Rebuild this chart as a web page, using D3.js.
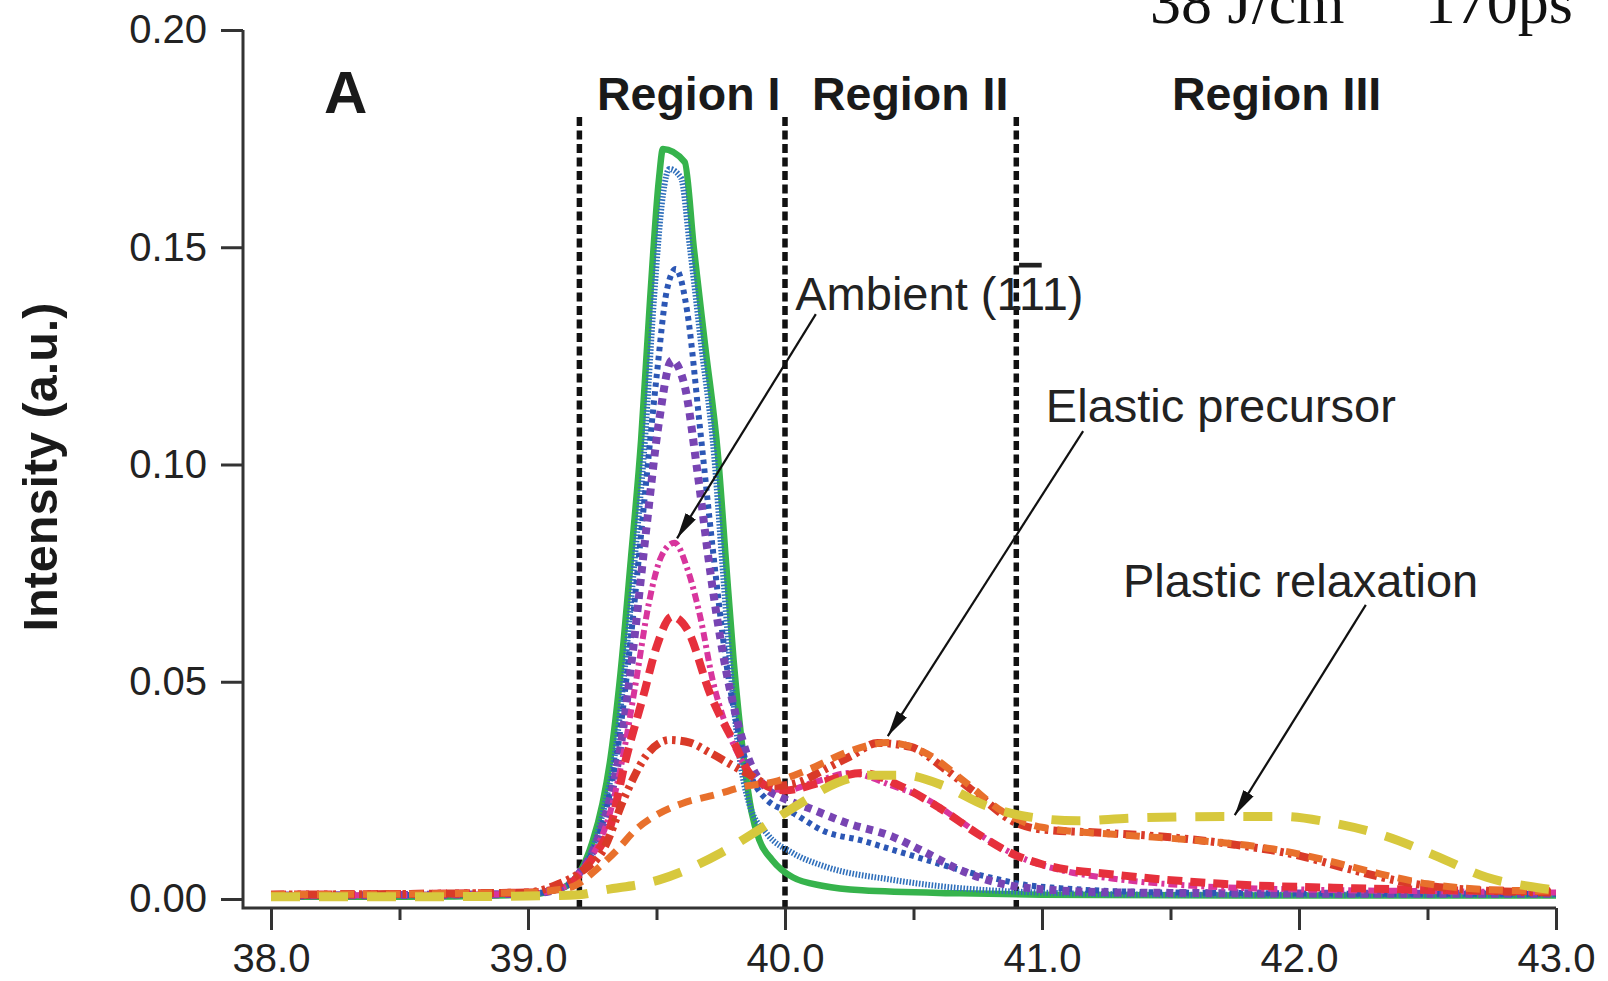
<!doctype html>
<html lang="en">
<head>
  <meta charset="utf-8">
  <title>Intensity vs angle - regions I, II, III</title>
  <style>
    html, body { margin:0; padding:0; background:#fff; }
    #chart svg { display:block; }
    .tick text { font-family:"Liberation Sans", Arial, sans-serif; fill:#222; }
    .tick line { stroke:#333; stroke-width:3; }
    .note { font-family:"Liberation Sans", Arial, sans-serif; fill:#222; }
    .bold { font-weight:bold; fill:#1a1a1a; }
  </style>
</head>
<body>
  <div id="chart"></div>

<script src="https://cdn.jsdelivr.net/npm/d3@7"></script>
<script>
// tick values
var xTicks = [38, 39, 40, 41, 42, 43];
var xMinor = [38.5, 39.5, 40.5, 41.5, 42.5];
var yTicks = [0, 0.05, 0.10, 0.15, 0.20];

// region boundaries (x) and labels
var regionBounds = [39.2, 40.0, 40.9];
var regionNames = ["Region I", "Region II", "Region III"];

// curves, [x, intensity]
var ambient = [[38.0,0.0005],[38.5,0.0005],[39.0,0.001],[39.1,0.002],[39.15,0.003],[39.2,0.006],[39.25,0.013],
  [39.29,0.022],[39.32,0.032],[39.36,0.052],[39.40,0.078],[39.44,0.1056],[39.475,0.138],[39.51,0.166],[39.525,0.1726],
  [39.61,0.1696],[39.645,0.15],[39.69,0.127],[39.74,0.1016],[39.77,0.078],[39.80,0.055],[39.84,0.032],[39.87,0.02],
  [39.90,0.0136],[39.95,0.009],[40.03,0.005],[40.15,0.003],[40.3,0.002],[40.68,0.0013],[41.0,0.001],[42.0,0.0008],[43.0,0.0008]];
var blueFine = [[38.0,0.0008],[38.5,0.0008],[39.0,0.0012],[39.1,0.002],[39.15,0.003],[39.2,0.006],[39.26,0.013],
  [39.30,0.022],[39.335,0.032],[39.375,0.052],[39.415,0.078],[39.455,0.1056],[39.49,0.138],[39.525,0.162],[39.55,0.168],
  [39.595,0.166],[39.63,0.15],[39.675,0.127],[39.725,0.1016],[39.755,0.078],[39.785,0.055],[39.82,0.034],[39.86,0.022],
  [39.93,0.015],[40.03,0.0106],[40.16,0.0074],[40.42,0.0044],[40.68,0.0025],[40.94,0.0016],[41.5,0.001],[42.5,0.001],[43.0,0.001]];
var blueDot = [[38.0,0.0008],[39.0,0.0012],[39.15,0.003],[39.2,0.006],[39.26,0.012],[39.31,0.022],[39.35,0.035],
  [39.40,0.06],[39.45,0.09],[39.50,0.12],[39.54,0.14],[39.575,0.145],[39.62,0.135],[39.67,0.108],[39.72,0.08],
  [39.77,0.055],[39.82,0.038],[39.87,0.028],[39.93,0.0228],[40.03,0.0198],[40.16,0.0154],[40.29,0.0136],[40.42,0.0113],
  [40.55,0.009],[40.68,0.0067],[40.81,0.0048],[40.94,0.0032],[41.07,0.0025],[41.5,0.0015],[42.5,0.0012],[43.0,0.0012]];
var purple = [[38.0,0.0008],[39.0,0.0012],[39.15,0.003],[39.2,0.006],[39.26,0.012],[39.31,0.021],[39.36,0.035],
  [39.41,0.058],[39.46,0.085],[39.51,0.11],[39.56,0.124],[39.61,0.118],[39.66,0.098],[39.71,0.075],[39.76,0.056],
  [39.81,0.042],[39.86,0.032],[39.92,0.026],[40.0,0.023],[40.09,0.021],[40.24,0.0175],[40.42,0.0143],[40.55,0.0106],
  [40.68,0.0067],[40.81,0.004],[40.95,0.0025],[41.3,0.0015],[42.5,0.0012],[43.0,0.0012]];
var magenta = [[38.0,0.0008],[39.0,0.0012],[39.15,0.003],[39.2,0.006],[39.26,0.011],[39.32,0.02],[39.37,0.033],
  [39.42,0.05],[39.47,0.068],[39.52,0.079],[39.57,0.082],[39.62,0.076],[39.67,0.065],[39.72,0.05],[39.77,0.04],
  [39.83,0.032],[39.9,0.027],[40.0,0.025],[40.12,0.027],[40.25,0.029],[40.42,0.026],[40.55,0.023],[40.68,0.018],
  [40.81,0.0129],[40.94,0.009],[41.07,0.0067],[41.3,0.0045],[41.6,0.003],[42.0,0.0022],[42.5,0.0018],[43.0,0.0015]];
var redDash = [[38.0,0.001],[39.0,0.0015],[39.15,0.003],[39.22,0.007],[39.27,0.011],[39.32,0.0166],[39.38,0.032],
  [39.45,0.047],[39.5,0.058],[39.56,0.065],[39.62,0.062],[39.71,0.047],[39.81,0.035],[39.86,0.029],[39.93,0.026],
  [40.0,0.025],[40.15,0.027],[40.3,0.029],[40.45,0.026],[40.6,0.021],[40.75,0.015],[40.9,0.01],[41.0,0.008],
  [41.3,0.0055],[41.7,0.0035],[42.2,0.0025],[42.6,0.002],[43.0,0.0018]];
var redDotDot = [[38.0,0.001],[39.0,0.0015],[39.1,0.003],[39.2,0.006],[39.29,0.011],[39.38,0.024],[39.46,0.033],
  [39.55,0.0366],[39.63,0.036],[39.71,0.0336],[39.85,0.029],[39.96,0.026],[40.06,0.027],[40.16,0.030],[40.26,0.033],
  [40.36,0.0359],[40.49,0.035],[40.62,0.030],[40.75,0.024],[40.9,0.0175],[41.0,0.016],[41.25,0.0152],[41.5,0.0142],
  [41.75,0.0125],[42.0,0.010],[42.2,0.0068],[42.4,0.004],[42.7,0.002],[43.0,0.0015]];
var orange = [[38.0,0.001],[39.0,0.0015],[39.1,0.002],[39.18,0.003],[39.27,0.007],[39.35,0.0115],[39.42,0.016],
  [39.49,0.019],[39.60,0.022],[39.73,0.024],[39.85,0.026],[39.96,0.027],[40.1,0.030],[40.25,0.034],[40.4,0.036],
  [40.55,0.0335],[40.7,0.027],[40.85,0.020],[41.0,0.0165],[41.3,0.0148],[41.6,0.0135],[41.9,0.0115],[42.1,0.009],
  [42.3,0.006],[42.5,0.0035],[42.8,0.002],[43.0,0.0018]];
var yellow = [[38.0,0.0005],[38.5,0.0005],[39.0,0.0007],[39.2,0.001],[39.29,0.002],[39.51,0.0044],[39.75,0.0106],
  [39.90,0.016],[40.06,0.022],[40.20,0.0267],[40.33,0.0285],[40.46,0.0285],[40.62,0.026],[40.78,0.0215],[40.94,0.019],
  [41.14,0.018],[41.34,0.0186],[41.73,0.019],[41.93,0.019],[42.13,0.0175],[42.33,0.0146],[42.53,0.010],[42.73,0.005],
  [42.93,0.0026],[43.0,0.002]];

// annotations: label, text anchor [x, y], arrow from [x, y] to [x, y]
var noteLabels = ["Ambient (1", "Elastic precursor", "Plastic relaxation"];
var noteAt = [[40.04, 0.1356], [41.015, 0.1098], [41.315, 0.0695]];
var noteFrom = [[40.12, 0.1346], [41.16, 0.1077], [42.26, 0.0677]];
var noteTo = [[39.58, 0.083], [40.40, 0.0375], [41.75, 0.0193]];

var W = 1608, H = 981;

var x = d3.scaleLinear().domain([38, 43]).range([271, 1556]);
var y = d3.scaleLinear().domain([0, 0.20]).range([899, 30]);
var axisX = 243, axisY = 908;

var svg = d3.select("#chart").append("svg").attr("width", W).attr("height", H);
svg.append("rect").attr("width", W).attr("height", H).attr("fill", "#fff");

svg.append("defs").append("marker")
  .attr("id", "head").attr("markerUnits", "userSpaceOnUse")
  .attr("viewBox", "0 -7 26 14").attr("refX", 26).attr("refY", 0)
  .attr("markerWidth", 26).attr("markerHeight", 14).attr("orient", "auto")
  .append("path").attr("d", "M0,-6L26,0L0,6Z").attr("fill", "#111");

// region dividers
svg.selectAll(".divider").data(regionBounds).enter().append("line")
  .attr("class", "divider")
  .attr("x1", function(d) { return x(d); }).attr("x2", function(d) { return x(d); })
  .attr("y1", y(0.18)).attr("y2", axisY)
  .attr("stroke", "#111").attr("stroke-width", 5.5).attr("stroke-dasharray", "9,4.5");

// curves
var series = [
  { data: ambient,   color: "#36b34c", width: 6.5, dash: null },
  { data: blueFine,  color: "#2f6fbb", width: 6, dash: "1.6,1.6" },
  { data: blueDot,   color: "#2c57b5", width: 6, dash: "4.5,4.5" },
  { data: purple,    color: "#7844b3", width: 8, dash: "7,6" },
  { data: magenta,   color: "#d8359d", width: 6, dash: "9,4,3,4" },
  { data: redDash,   color: "#e6303c", width: 8, dash: "15,8" },
  { data: redDotDot, color: "#d93a28", width: 8, dash: "13,5,3.5,5,3.5,5" },
  { data: orange,    color: "#e8702c", width: 7, dash: "14,9" },
  { data: yellow,    color: "#d7c83d", width: 9, dash: "29,19" }
];

var line = d3.line()
  .x(function(d) { return x(d[0]); })
  .y(function(d) { return y(d[1]); })
  .curve(d3.curveMonotoneX);

svg.selectAll(".curve").data(series).enter().append("path")
  .attr("class", "curve")
  .attr("d", function(s) { return line(s.data); })
  .attr("fill", "none")
  .attr("stroke", function(s) { return s.color; })
  .attr("stroke-width", function(s) { return s.width; })
  .attr("stroke-dasharray", function(s) { return s.dash; })
  .attr("stroke-linejoin", "round");

// axes
var gx = svg.append("g").attr("transform", "translate(0," + axisY + ")")
  .call(d3.axisBottom(x).tickValues(xTicks).tickFormat(d3.format(".1f")).tickSize(22).tickPadding(14));
gx.select(".domain").remove();
gx.selectAll(".tick text").attr("font-size", 40).attr("dy", "0.71em");
svg.append("g").attr("transform", "translate(0," + axisY + ")")
  .call(d3.axisBottom(x).tickValues(xMinor).tickFormat("").tickSize(12))
  .select(".domain").remove();

var gy = svg.append("g").attr("transform", "translate(" + axisX + ",0)")
  .call(d3.axisLeft(y).tickValues(yTicks).tickFormat(d3.format(".2f")).tickSize(22).tickPadding(14));
gy.select(".domain").remove();
gy.selectAll(".tick text").attr("font-size", 40);

svg.append("path")
  .attr("d", "M" + axisX + "," + y(0.20) + "V" + axisY + "H" + x(43))
  .attr("fill", "none").attr("stroke", "#333").attr("stroke-width", 3);

svg.append("text").attr("class", "note bold")
  .attr("transform", "translate(57," + 467 + ") rotate(-90)")
  .attr("text-anchor", "middle").attr("font-size", 48)
  .attr("textLength", 329).attr("lengthAdjust", "spacingAndGlyphs")
  .text("Intensity (a.u.)");

// panel letter and region titles
svg.append("text").attr("class", "note bold").attr("x", 324).attr("y", 113)
  .attr("font-size", 60).text("A");
var regionStarts = [597, 812, 1172];
svg.selectAll(".region").data(regionNames).enter().append("text")
  .attr("class", "note bold")
  .attr("x", function(d, i) { return regionStarts[i]; }).attr("y", 110)
  .attr("font-size", 46.5).text(function(d) { return d; });

// annotations
noteLabels.forEach(function(label, i) {
  var t = svg.append("text").attr("class", "note")
    .attr("x", x(noteAt[i][0])).attr("y", y(noteAt[i][1]))
    .attr("font-size", 47).text(label);
  if (i === 0) {
    t.append("tspan").attr("style", "text-decoration: overline").text("1");
    t.append("tspan").text("1)");
  }
  svg.append("line")
    .attr("x1", x(noteFrom[i][0])).attr("y1", y(noteFrom[i][1]))
    .attr("x2", x(noteTo[i][0])).attr("y2", y(noteTo[i][1]))
    .attr("stroke", "#111").attr("stroke-width", 2.2)
    .attr("marker-end", "url(#head)");
});

// fluence / delay caption, cut off at the top edge as in the source figure
var cap = svg.append("text").attr("x", 1150).attr("y", 23)
  .attr("font-family", "'Liberation Serif', 'Times New Roman', serif")
  .attr("font-size", 62).attr("fill", "#111");
cap.append("tspan").text("38 J/cm");
cap.append("tspan").attr("dy", -30).attr("font-size", 40).text("2");
svg.append("text").attr("x", 1573).attr("y", 23).attr("text-anchor", "end")
  .attr("font-family", "'Liberation Serif', 'Times New Roman', serif")
  .attr("font-size", 62).attr("fill", "#111").text("170ps");
</script>
</body>
</html>
